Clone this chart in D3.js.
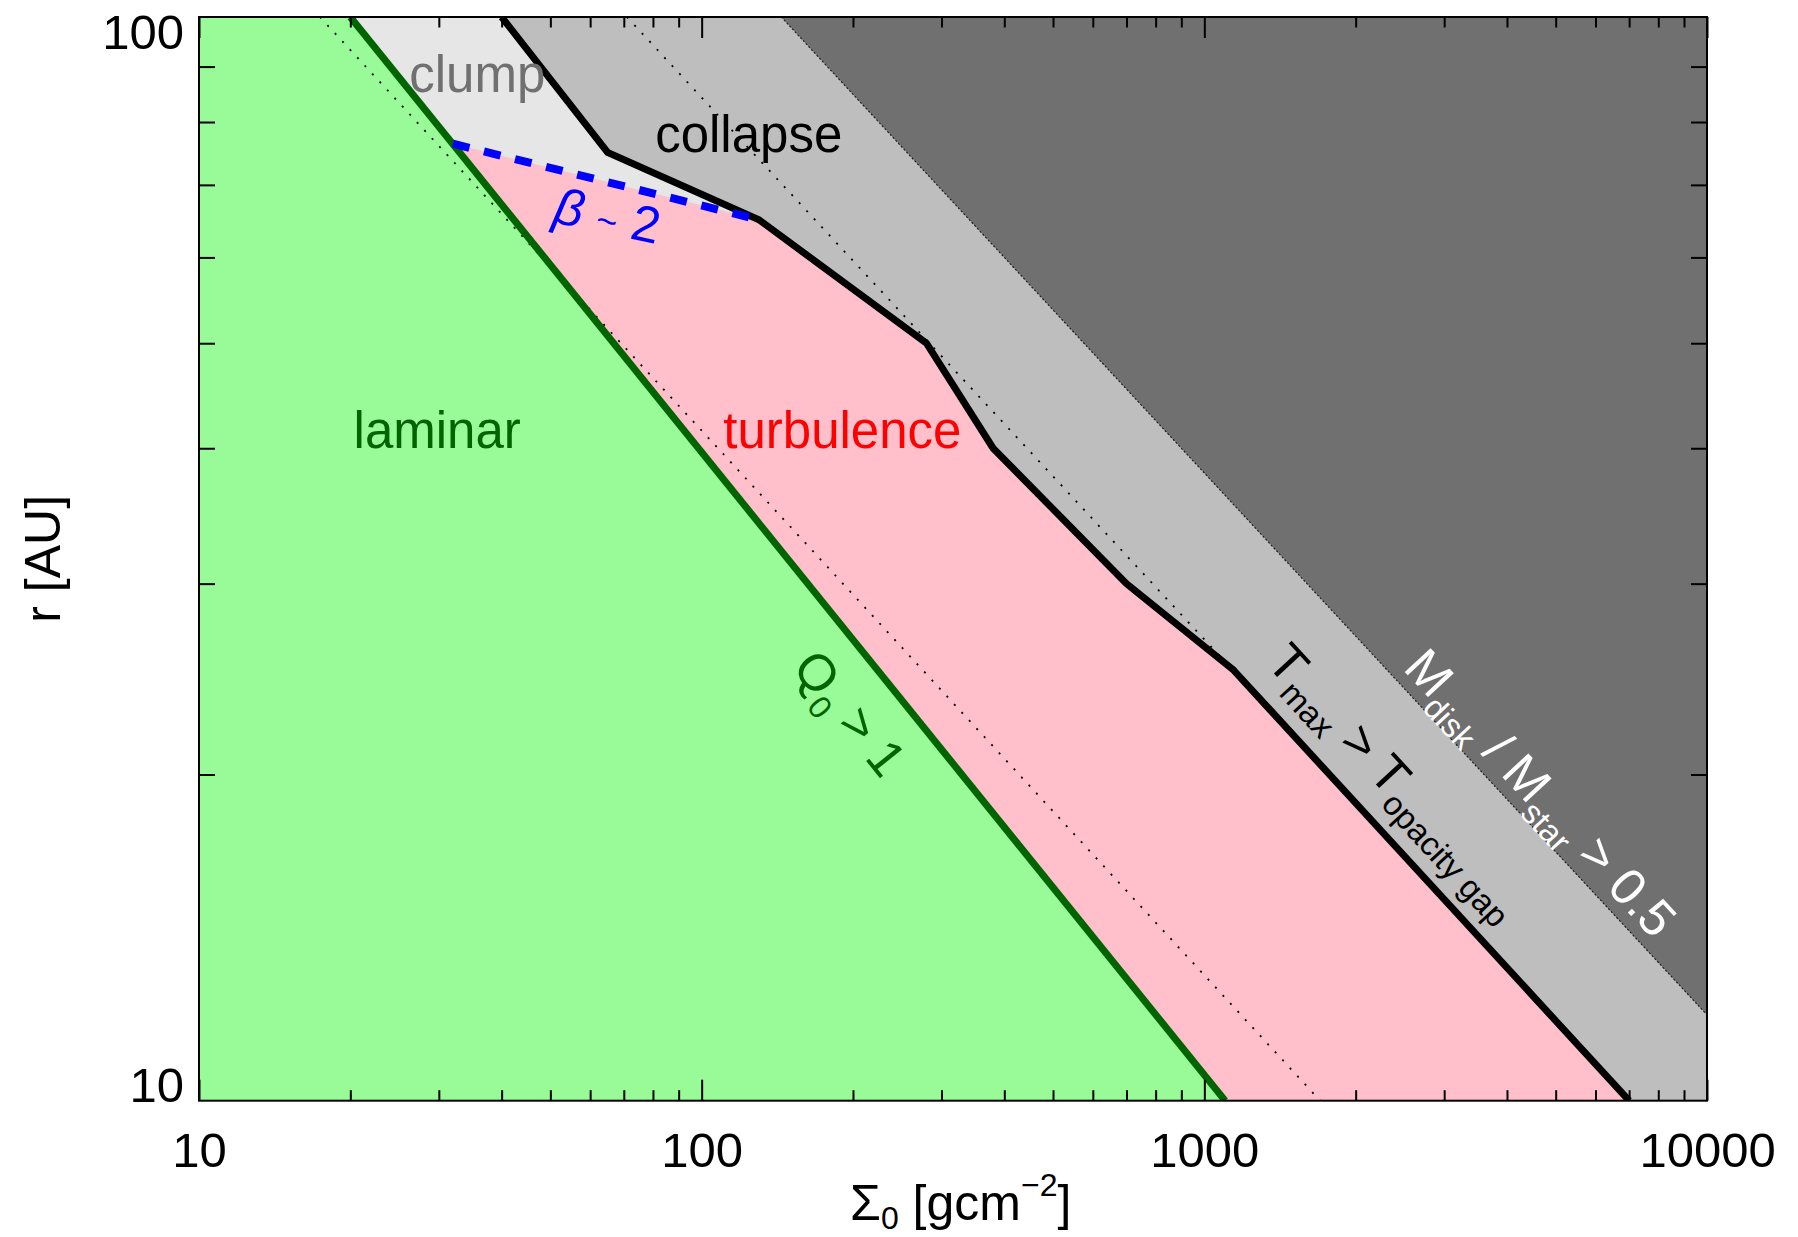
<!DOCTYPE html>
<html>
<head>
<meta charset="utf-8">
<script src="https://cdn.jsdelivr.net/npm/d3@7"></script>
<style>
  html, body { margin: 0; padding: 0; background: #fff; }
  svg text { font-family: "Liberation Sans", Arial, Helvetica, sans-serif; }
</style>
</head>
<body>
<svg id="chart" width="1798" height="1237"></svg>
<script>
// ---- axis ranges and ticks ----
const sigmaDomain = [10, 10000];      // Σ0 [g cm^-2]
const radiusDomain = [10, 100];       // r [AU]
const xMajorTicks = [10, 100, 1000, 10000];
const xMinorTicks = [20, 30, 40, 50, 60, 70, 80, 90,
                     200, 300, 400, 500, 600, 700, 800, 900,
                     2000, 3000, 4000, 5000, 6000, 7000, 8000, 9000];
const yMajorTicks = [10, 100];
const yMinorTicks = [20, 30, 40, 50, 60, 70, 80, 90];

// ---- regime boundaries, as [Σ0, r] pairs ----
// Toomre Q0 = 1
const toomreLine = [[20, 100], [1100, 10]];
// T_max = T_opacity gap
const opacityGapLine = [[40, 100], [65, 75], [130, 65], [280, 50], [380, 40], [700, 30], [1140, 25], [7000, 10]];
// cooling time β ~ 2
const betaLine = [[32, 76.4], [130, 65]];
// M_disk / M_star = 0.5
const massLine = [[144, 100], [10000, 12]];
// dotted reference lines (Σ0 ∝ r^-2)
const refLineA = [[17.4, 100], [1700, 10]];
const refLineB = [[71, 100], [7100, 10]];

// ---- region labels: text, anchor Σ0, anchor r ----
const regionLabels = [
  { text: "clump",      sigma: 26.2,  r: 85.3, color: "#707070" },
  { text: "collapse",   sigma: 80.8,  r: 75.1, color: "#000000" },
  { text: "turbulence", sigma: 110.4, r: 40.0, color: "#ff0000" },
  { text: "laminar",    sigma: 20.3,  r: 40.0, color: "#006400" }
];

// ---- layout ----
const plot = { left: 199, right: 1707, top: 17, bottom: 1100.7 };
const svg = d3.select("#chart");

const x = d3.scaleLog().domain(sigmaDomain).range([plot.left, plot.right]);
const y = d3.scaleLog().domain(radiusDomain).range([plot.bottom, plot.top]);
const line = d3.line().x(d => x(d[0])).y(d => y(d[1]));
const poly = pts => line(pts) + "Z";

svg.append("defs").append("clipPath").attr("id", "plotClip")
  .append("rect")
  .attr("x", plot.left).attr("y", plot.top)
  .attr("width", plot.right - plot.left).attr("height", plot.bottom - plot.top);

const g = svg.append("g").attr("clip-path", "url(#plotClip)");

const xMin = sigmaDomain[0], xMax = sigmaDomain[1];
const rMin = radiusDomain[0], rMax = radiusDomain[1];

// massive-disk region (background)
g.append("rect")
  .attr("x", plot.left).attr("y", plot.top)
  .attr("width", plot.right - plot.left).attr("height", plot.bottom - plot.top)
  .attr("fill", "#707070");

// everything below the disk-mass limit
g.append("path")
  .attr("d", poly([[xMin, rMax], ...massLine, [xMax, rMin], [xMin, rMin]]))
  .attr("fill", "#bebebe");

// turbulence region
g.append("path")
  .attr("d", poly([...betaLine, ...opacityGapLine.slice(3), [xMin, rMin], [xMin, betaLine[0][1]]]))
  .attr("fill", "#ffc0cb");

// clump region
g.append("path")
  .attr("d", poly([[xMin, rMax], ...opacityGapLine.slice(0, 3), betaLine[0], [xMin, betaLine[0][1]]]))
  .attr("fill", "#e6e6e6");

// laminar region
g.append("path")
  .attr("d", poly([[xMin, rMax], ...toomreLine, [xMin, rMin]]))
  .attr("fill", "#98fb98");

// dotted guides
[refLineA, refLineB].forEach(l => {
  g.append("path").attr("d", line(l))
    .attr("fill", "none").attr("stroke", "#000")
    .attr("stroke-width", 1.8).attr("stroke-dasharray", "2,9");
});
g.append("path").attr("d", line(massLine))
  .attr("fill", "none").attr("stroke", "#000")
  .attr("stroke-width", 1.2).attr("stroke-dasharray", "2,2").attr("opacity", 0.8);

// boundary curves
g.append("path").attr("d", line(toomreLine))
  .attr("fill", "none").attr("stroke", "#006400").attr("stroke-width", 7);
g.append("path").attr("d", line(opacityGapLine))
  .attr("fill", "none").attr("stroke", "#000").attr("stroke-width", 7)
  .attr("stroke-linejoin", "miter");
g.append("path").attr("d", line(betaLine))
  .attr("fill", "none").attr("stroke", "#0000ff").attr("stroke-width", 8)
  .attr("stroke-dasharray", "17,15");

// ---- region labels ----
const LABEL_SIZE = 51, SUB_SIZE = 32;
regionLabels.forEach(d => {
  svg.append("text")
    .attr("x", x(d.sigma)).attr("y", y(d.r))
    .attr("font-size", LABEL_SIZE).attr("fill", d.color)
    .text(d.text);
});

// text built from pieces with sub/superscripts
function richText(parent, parts, px, py, angle, color, size, opts) {
  const o = Object.assign({ sub: 13, sup: -24, subSize: SUB_SIZE }, opts || {});
  const t = parent.append("text")
    .attr("transform", `translate(${px},${py}) rotate(${angle})`)
    .attr("fill", color).attr("font-size", size);
  let shift = 0;
  parts.forEach(p => {
    const target = p.sub ? o.sub : p.sup ? o.sup : 0;
    const ts = t.append("tspan")
      .attr("dy", target - shift)
      .attr("font-size", p.size || ((p.sub || p.sup) ? o.subSize : size))
      .text(p.t);
    if (p.italic) ts.attr("font-style", "italic");
    shift = target;
  });
  return t;
}
const segAngle = (a, b) => Math.atan2(y(b[1]) - y(a[1]), x(b[0]) - x(a[0])) * 180 / Math.PI;

// β ~ 2
richText(svg, [
  { t: "β", italic: true }, { t: " " }, { t: "~", size: 36 }, { t: " 2" }
], x(50.3), y(64.7), 12, "#0000ff", LABEL_SIZE);

// Q0 > 1 along the Toomre boundary
richText(svg, [
  { t: "Q" }, { t: "0", sub: true }, { t: " > 1" }
], x(150.6), y(25.07), segAngle(toomreLine[0], toomreLine[1]), "#006400", LABEL_SIZE);

// Tmax > Topacity gap along the last opacity-gap segment
const og = opacityGapLine;
richText(svg, [
  { t: "T" }, { t: "max", sub: true }, { t: " > T" }, { t: "opacity gap", sub: true }
], x(1320), y(25.3), segAngle(og[og.length - 2], og[og.length - 1]), "#000", LABEL_SIZE, { sub: 11, subSize: 33 });

// Mdisk / Mstar > 0.5 along the disk-mass limit
richText(svg, [
  { t: "M" }, { t: "disk", sub: true }, { t: " / M" }, { t: "star", sub: true }, { t: " > 0.5" }
], x(2473), y(25.03), segAngle(massLine[0], massLine[1]), "#fff", LABEL_SIZE, { subSize: 33 });

// ---- axes ----
const axes = svg.append("g");
const tickStyle = sel => sel.selectAll("line").attr("stroke", "#000").attr("stroke-width", 2);
const hideDomain = sel => sel.select(".domain").remove();

// x: bottom and top, ticks pointing inward
axes.append("g").attr("transform", `translate(0,${plot.bottom})`)
  .call(d3.axisBottom(x).tickValues(xMinorTicks).tickSize(-10.5).tickFormat(""))
  .call(hideDomain).call(tickStyle);
axes.append("g").attr("transform", `translate(0,${plot.bottom})`)
  .call(d3.axisBottom(x).tickValues(xMajorTicks).tickSize(-21).tickFormat(""))
  .call(hideDomain).call(tickStyle);
axes.append("g").attr("transform", `translate(0,${plot.top})`)
  .call(d3.axisTop(x).tickValues(xMinorTicks).tickSize(-10.5).tickFormat(""))
  .call(hideDomain).call(tickStyle);
axes.append("g").attr("transform", `translate(0,${plot.top})`)
  .call(d3.axisTop(x).tickValues(xMajorTicks).tickSize(-21).tickFormat(""))
  .call(hideDomain).call(tickStyle);

// y: left and right
axes.append("g").attr("transform", `translate(${plot.left},0)`)
  .call(d3.axisLeft(y).tickValues(yMinorTicks).tickSize(-16).tickFormat(""))
  .call(hideDomain).call(tickStyle);
axes.append("g").attr("transform", `translate(${plot.right},0)`)
  .call(d3.axisRight(y).tickValues(yMinorTicks).tickSize(-16).tickFormat(""))
  .call(hideDomain).call(tickStyle);

// tick labels
const xLab = axes.append("g").attr("transform", `translate(0,${plot.bottom})`)
  .call(d3.axisBottom(x).tickValues(xMajorTicks).tickSize(0).tickFormat(d3.format("d")));
xLab.call(hideDomain);
xLab.selectAll("text")
  .attr("y", 66).attr("dy", 0)
  .attr("font-size", 49).attr("fill", "#000")
  .style("font-family", '"Liberation Sans", Arial, sans-serif');

const yLab = axes.append("g").attr("transform", `translate(${plot.left},0)`)
  .call(d3.axisLeft(y).tickValues(yMajorTicks).tickSize(0).tickPadding(15).tickFormat(d3.format("d")));
yLab.call(hideDomain);
yLab.selectAll("text")
  .attr("dy", d => d === rMin ? 1 : 31)
  .attr("font-size", 49).attr("fill", "#000")
  .style("font-family", '"Liberation Sans", Arial, sans-serif');

// frame
svg.append("rect")
  .attr("x", plot.left).attr("y", plot.top)
  .attr("width", plot.right - plot.left).attr("height", plot.bottom - plot.top)
  .attr("fill", "none").attr("stroke", "#000").attr("stroke-width", 2);

// axis titles
richText(svg, [
  { t: "Σ" }, { t: "0", sub: true }, { t: " [gcm" }, { t: "−2", sup: true }, { t: "]" }
], 850, 1220, 0, "#000", 50, { sub: 9 });

svg.append("text")
  .attr("transform", `translate(59.5,${(plot.top + plot.bottom) / 2}) rotate(-90)`)
  .attr("text-anchor", "middle").attr("font-size", 50).attr("fill", "#000")
  .text("r [AU]");
</script>
</body>
</html>
